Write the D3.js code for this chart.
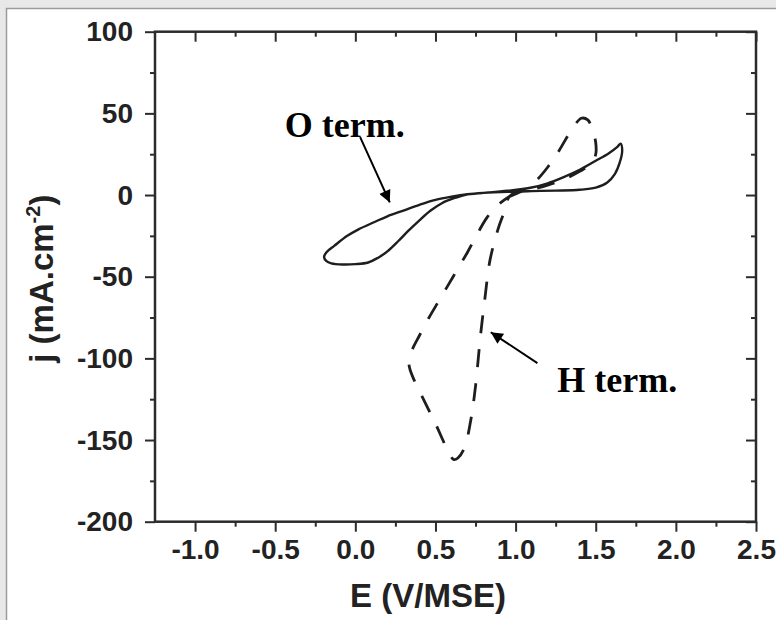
<!DOCTYPE html>
<html>
<head>
<meta charset="utf-8">
<script src="https://cdn.jsdelivr.net/npm/d3@7"></script>
<style>
  html, body { margin: 0; padding: 0; background: #e8e8e8; }
  svg { display: block; }
</style>
</head>
<body>
<script>
// Cyclic voltammograms of O- and H-terminated electrodes: E (V/MSE) vs j (mA.cm-2)

// O-terminated (solid), closed loop
const oTermE = [0.70, 0.80, 0.95, 1.10, 1.20, 1.30, 1.40, 1.50, 1.58, 1.635, 1.655, 1.665, 1.65, 1.62, 1.57, 1.50, 1.40, 1.25, 1.10, 0.95, 0.80, 0.70,
  0.60, 0.50, 0.40, 0.30, 0.20, 0.12, 0.02, -0.05, -0.13, -0.18, -0.195, -0.18, -0.15, -0.08, 0.00, 0.08, 0.14, 0.20, 0.27, 0.33, 0.40, 0.47, 0.54, 0.62, 0.70];
const oTermJ = [0.5, 1.3, 2.6, 4.6, 7.2, 11, 15.5, 21, 25.5, 29.5, 31.5, 27, 20, 13, 7.5, 4.5, 3.2, 2.7, 2.4, 2.0, 1.3, 0.5,
  -1.0, -3.0, -6.0, -9.5, -13, -16.5, -21, -25, -31, -35, -38, -40.5, -41.8, -42.5, -42.3, -41.3, -38.5, -34.5, -28, -22, -15.5, -9.5, -5.0, -1.8, 0.5];

// H-terminated (dashed), closed loop
const hTermE = [0.96, 1.05, 1.13, 1.20, 1.27, 1.33, 1.37, 1.41, 1.45, 1.48, 1.50, 1.50, 1.47, 1.40, 1.30, 1.20, 1.10, 1.00, 0.96,
  0.93, 0.89, 0.84, 0.81, 0.78, 0.75, 0.72, 0.68, 0.64, 0.615, 0.59, 0.56, 0.50, 0.43, 0.37, 0.335, 0.35, 0.40, 0.46, 0.52, 0.58, 0.64, 0.70, 0.76, 0.82, 0.88, 0.93, 0.96];
const hTermJ = [-1, 3, 9, 17, 27, 37, 43, 47, 46, 40, 32, 25, 19, 14.5, 9.5, 6, 3.5, 1.5, -1,
  -10, -21, -40, -62, -87, -117, -138, -155, -161, -162, -159, -153, -140, -126, -114, -104, -96, -86, -75, -65, -55, -45, -35, -24, -14, -7, -3, -1];

// Axis ticks
const xMajor = [-1.0, -0.5, 0.0, 0.5, 1.0, 1.5, 2.0, 2.5];
const xTickLabels = ["-1.0", "-0.5", "0.0", "0.5", "1.0", "1.5", "2.0", "2.5"];
const xMinor = [-0.75, -0.25, 0.25, 0.75, 1.25, 1.75, 2.25];
const yMajor = [100, 50, 0, -50, -100, -150, -200];
const yTickLabels = ["100", "50", "0", "-50", "-100", "-150", "-200"];
const yMinor = [75, 25, -25, -75, -125, -175];

// Annotations: label anchor and arrow (start -> tip) in data units
const annLabels = ["O term.", "H term."];
const annTextE = [-0.44, 1.26];
const annTextJ = [35.5, -120.6];
const annFromE = [0.03, 1.136];
const annFromJ = [35.5, -102.9];
const annToE = [0.215, 0.845];
const annToJ = [-4.5, -84];

const W = 776, H = 620;
const svg = d3.select("body").append("svg").attr("width", W).attr("height", H);

// panel
svg.append("rect").attr("x", 6.5).attr("y", 8.5).attr("width", W).attr("height", H)
  .attr("fill", "#fff").attr("stroke", "#9a9a9a").attr("stroke-width", 1.5);

const L = 155, R = 756, T = 31.7, B = 521.7;
const x = d3.scaleLinear().domain([-1.25, 2.5]).range([L, R]);
const y = d3.scaleLinear().domain([-200, 100]).range([B, T]);

const axisColor = "#2b2b2b";
const fontSans = "'Liberation Sans', Arial, Helvetica, sans-serif";
const fontSerif = "'Liberation Serif', 'Times New Roman', serif";

function styleAxis(g) {
  g.select(".domain").remove();
  g.selectAll("line").attr("stroke", axisColor).attr("stroke-width", 2);
  g.selectAll("text").attr("fill", "#222").attr("font-family", fontSans)
    .attr("font-size", 28).attr("font-weight", "bold");
}

// bottom (outward ticks, labelled)
svg.append("g").attr("transform", `translate(0,${B})`)
  .call(d3.axisBottom(x).tickValues(xMajor).tickSize(10).tickPadding(7)
    .tickFormat((d, i) => xTickLabels[i]))
  .call(styleAxis);
svg.append("g").attr("transform", `translate(0,${B})`)
  .call(d3.axisBottom(x).tickValues(xMinor).tickSize(5).tickFormat(""))
  .call(styleAxis);
// left (outward ticks, labelled)
svg.append("g").attr("transform", `translate(${L},0)`)
  .call(d3.axisLeft(y).tickValues(yMajor).tickSize(10).tickPadding(12)
    .tickFormat((d, i) => yTickLabels[i]))
  .call(styleAxis);
svg.append("g").attr("transform", `translate(${L},0)`)
  .call(d3.axisLeft(y).tickValues(yMinor).tickSize(5).tickFormat(""))
  .call(styleAxis);
// top (inward ticks)
svg.append("g").attr("transform", `translate(0,${T})`)
  .call(d3.axisTop(x).tickValues(xMajor).tickSize(-10).tickFormat(""))
  .call(styleAxis);
svg.append("g").attr("transform", `translate(0,${T})`)
  .call(d3.axisTop(x).tickValues(xMinor).tickSize(-5).tickFormat(""))
  .call(styleAxis);
// right (inward ticks)
svg.append("g").attr("transform", `translate(${R},0)`)
  .call(d3.axisRight(y).tickValues(yMajor).tickSize(-10).tickFormat(""))
  .call(styleAxis);
svg.append("g").attr("transform", `translate(${R},0)`)
  .call(d3.axisRight(y).tickValues(yMinor).tickSize(-5).tickFormat(""))
  .call(styleAxis);

// frame
svg.append("rect").attr("x", L).attr("y", T).attr("width", R - L).attr("height", B - T)
  .attr("fill", "none").attr("stroke", axisColor).attr("stroke-width", 2.5);

// axis titles
svg.append("text").attr("x", 428).attr("y", 607).attr("text-anchor", "middle")
  .attr("font-family", fontSans).attr("font-size", 33).attr("font-weight", "bold").attr("fill", "#222")
  .text("E (V/MSE)");

const yt = svg.append("text").attr("transform", `translate(53,${(T + B) / 2 + 2}) rotate(-90)`)
  .attr("text-anchor", "middle").attr("font-family", fontSans).attr("font-size", 33)
  .attr("font-weight", "bold").attr("fill", "#222");
yt.append("tspan").text("j (mA.cm");
yt.append("tspan").attr("font-size", 20).attr("dy", -13).text("-2");
yt.append("tspan").attr("dy", 13).text(")");

// curves
const line = d3.line().x(d => x(d[0])).y(d => y(d[1])).curve(d3.curveCatmullRom.alpha(0.5));
const oPts = oTermE.map((e, i) => [e, oTermJ[i]]);
const hPts = hTermE.map((e, i) => [e, hTermJ[i]]);

svg.append("path").datum(hPts).attr("d", line).attr("fill", "none")
  .attr("stroke", "#1e1e1e").attr("stroke-width", 2.8).attr("stroke-dasharray", "18,16");
svg.append("path").datum(oPts).attr("d", line).attr("fill", "none")
  .attr("stroke", "#1e1e1e").attr("stroke-width", 2.4);

// annotation arrows and labels
const defs = svg.append("defs");
defs.append("marker").attr("id", "arrowhead").attr("viewBox", "0 0 10 10")
  .attr("refX", 10).attr("refY", 5).attr("markerWidth", 7).attr("markerHeight", 6)
  .attr("markerUnits", "strokeWidth").attr("orient", "auto")
  .append("path").attr("d", "M0,0 L10,5 L0,10 Z").attr("fill", "#000");

annLabels.forEach((t, i) => {
  svg.append("line")
    .attr("x1", x(annFromE[i])).attr("y1", y(annFromJ[i]))
    .attr("x2", x(annToE[i])).attr("y2", y(annToJ[i]))
    .attr("stroke", "#000").attr("stroke-width", 2).attr("marker-end", "url(#arrowhead)");
  svg.append("text").attr("x", x(annTextE[i])).attr("y", y(annTextJ[i]))
    .attr("font-family", fontSerif).attr("font-size", 36).attr("font-weight", "bold")
    .attr("fill", "#000").text(t);
});
</script>
</body>
</html>
